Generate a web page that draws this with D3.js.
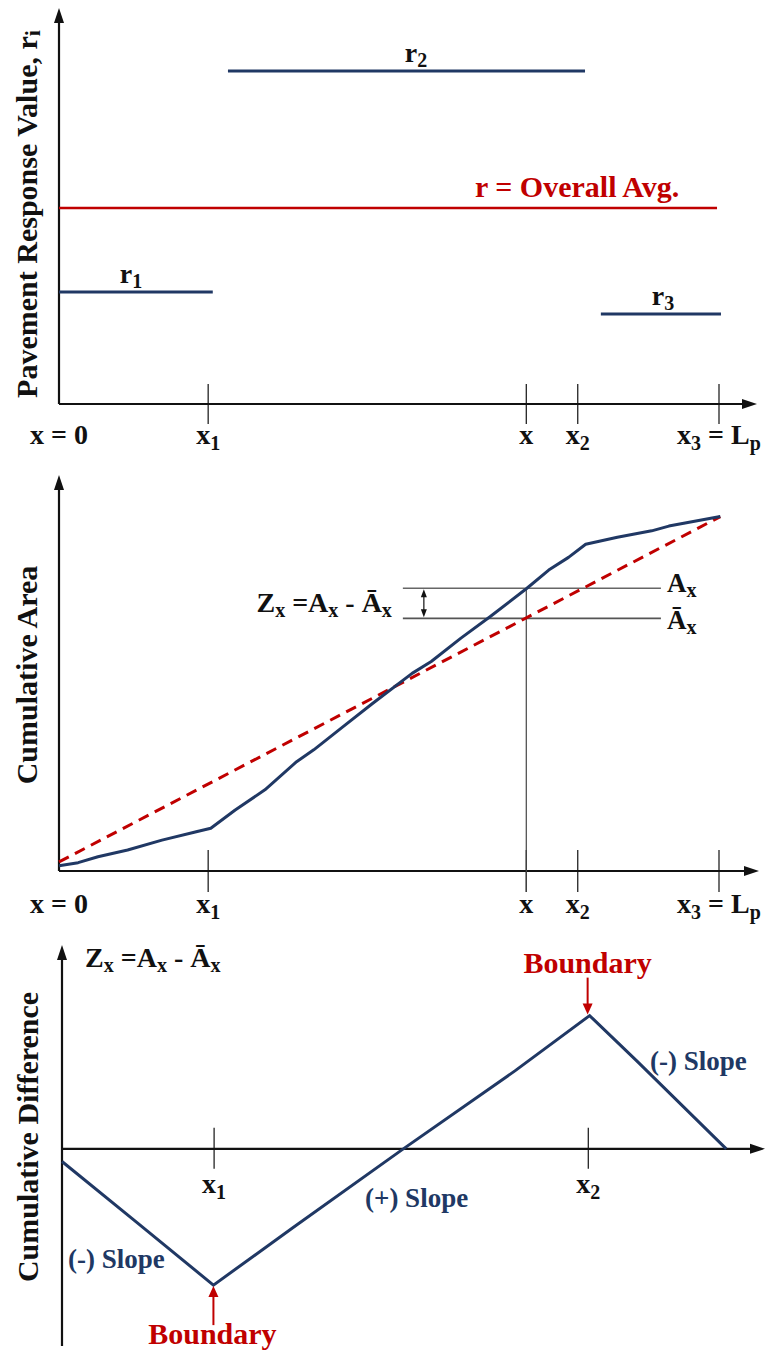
<!DOCTYPE html>
<html><head><meta charset="utf-8">
<script src="https://cdn.jsdelivr.net/npm/d3@7"></script>
<style>
body{margin:0;background:#fff}
svg{display:block}
text{font-family:"Liberation Serif","Times New Roman",serif;font-weight:bold}
</style>
</head><body>
<svg id="chart" width="767" height="1352"></svg>
<script>
// ---------- DATA ----------
// Panel 1: pavement response step values
const segLabels = ["r_1", "r_2", "r_3"];
const segStart  = [0, 25.6, 82.1];
const segEnd    = [23.3, 79.7, 100.3];
const segValue  = [28.3, 84.1, 22.7];
const overallAvg = 49.5;
const overallAvgSpan = [0, 99.7];
const overallAvgLabel = "r = Overall Avg.";

// x-axis ticks shared by panel 1 and 2
const tickValues = [0, 22.6, 70.8, 78.6, 100];
const tickLabels = ["x = 0", "x_1", "x", "x_2", "x_3 = L_p"];

// Panel 2: cumulative area
const cumX = [0, 2.9, 5.9, 10.4, 15.6, 20.8, 23.0, 26.7, 31.2, 36.0, 38.6, 43.0, 47.5, 53.5, 56.4, 60.9, 65.3, 70.9, 74.2, 77.2, 79.8, 84.6, 89.8, 92.4, 100.2];
const cumY = [1.3, 2.1, 3.6, 5.3, 7.8, 9.9, 10.8, 15.4, 20.5, 27.6, 30.6, 36.4, 42.3, 49.9, 52.9, 58.8, 64.2, 71.4, 76.0, 79.2, 82.5, 84.3, 85.9, 87.1, 89.5];
const avgLineX = [0, 100.2];
const avgLineY = [2.3, 89.5];
const markX = 70.8;          // position x
const markAx = 71.4;         // A_x
const markAbar = 63.8;       // Ā_x
const markSpan = [52.1, 91.2];

// Panel 3: cumulative difference
const diffX = [0, 11.2, 22.5, 34.5, 50.5, 67.3, 78.4, 85.4, 98.7];
const diffY = [-9.5, -55.6, -102.3, -58.5, -0.8, 58.5, 100, 66.0, 0];
const diffTickValues = [22.6, 78.2];
const diffTickLabels = ["x_1", "x_2"];

// ---------- STYLE ----------
const NAVY = "#203864", RED = "#C00000", AXIS = "#111";
const svg = d3.select("#chart");

// rich text helper: "_c" makes c a subscript
function rich(g, str, x, y, size, opts = {}) {
  const subSize = opts.subSize || Math.round(size * 0.72);
  const shift = opts.shift || Math.round(size * 0.2);
  const t = g.append("text").attr("x", x).attr("y", y)
    .attr("font-size", size).attr("fill", opts.fill || "#111")
    .attr("text-anchor", opts.anchor || "start");
  if (opts.transform) t.attr("transform", opts.transform);
  let i = 0, buf = "", low = false;
  const flush = () => { if (buf) { const s = t.append("tspan").text(buf); if (low) { s.attr("dy", -shift); low = false; } buf = ""; } };
  while (i < str.length) {
    if (str[i] === "_" && i + 1 < str.length) {
      flush();
      const s = t.append("tspan").text(str[i + 1]).attr("font-size", subSize);
      s.attr("dy", low ? 0 : shift);
      low = true;
      i += 2;
    } else { buf += str[i]; i++; }
  }
  flush();
  return t;
}
function arrowHead(g, tipX, tipY, dir, color, len = 14, hw = 5) {
  let pts;
  if (dir === "up") pts = [[tipX, tipY], [tipX - hw, tipY + len], [tipX + hw, tipY + len]];
  else if (dir === "down") pts = [[tipX, tipY], [tipX - hw, tipY - len], [tipX + hw, tipY - len]];
  else pts = [[tipX, tipY], [tipX - len, tipY - hw], [tipX - len, tipY + hw]];
  g.append("path").attr("d", d3.line()(pts) + "Z").attr("fill", color);
}
function axes(g, x0, yBottom, yTip, yAxisY, xTip) {
  g.append("line").attr("x1", x0).attr("x2", x0).attr("y1", yBottom).attr("y2", yTip + 10)
    .attr("stroke", AXIS).attr("stroke-width", 2.2);
  arrowHead(g, x0, yTip, "up", AXIS, 15, 5);
  g.append("line").attr("x1", x0).attr("x2", xTip - 10).attr("y1", yAxisY).attr("y2", yAxisY)
    .attr("stroke", AXIS).attr("stroke-width", 2.2);
  arrowHead(g, xTip, yAxisY, "right", AXIS, 15, 5);
}

// ---------- PANEL 1 ----------
const xTop = d3.scaleLinear().domain([0, 100]).range([59, 719]);
const yTop = d3.scaleLinear().domain([0, 100]).range([404, 8]);
const p1 = svg.append("g");
axes(p1, xTop(0), yTop(0), yTop(100), yTop(0), 757);
p1.selectAll(".tk").data(tickValues.slice(1)).enter().append("line")
  .attr("x1", d => xTop(d)).attr("x2", d => xTop(d))
  .attr("y1", yTop(0) - 20).attr("y2", yTop(0) + 20).attr("stroke", AXIS).attr("stroke-width", 1.2);
tickValues.forEach((v, i) => rich(p1, tickLabels[i], xTop(v), yTop(0) + 40, 28, { anchor: "middle", subSize: 20, shift: 6 }));
// avg line
p1.append("line").attr("x1", xTop(overallAvgSpan[0])).attr("x2", xTop(overallAvgSpan[1]))
  .attr("y1", yTop(overallAvg)).attr("y2", yTop(overallAvg)).attr("stroke", RED).attr("stroke-width", 2.4);
rich(p1, overallAvgLabel, 475, yTop(overallAvg) - 11, 30, { fill: RED });
// segments
segValue.forEach((v, i) => {
  p1.append("line").attr("x1", xTop(segStart[i])).attr("x2", xTop(segEnd[i]))
    .attr("y1", yTop(v)).attr("y2", yTop(v)).attr("stroke", NAVY).attr("stroke-width", 3);
});
const segLabelPos = [[131, 9], [416, 9], [663, 9]];
segValue.forEach((v, i) => rich(p1, segLabels[i], segLabelPos[i][0], yTop(v) - segLabelPos[i][1], 28, { anchor: "middle", subSize: 20, shift: 5 }));
rich(p1, "Pavement Response Value, r_i", 0, 0, 30, { anchor: "middle", subSize: 22, shift: 3, transform: `translate(37,${(yTop(0) + yTop(100)) / 2 + 8}) rotate(-90)` });

// ---------- PANEL 2 ----------
const xMid = d3.scaleLinear().domain([0, 100]).range([59, 719]);
const yMid = d3.scaleLinear().domain([0, 100]).range([871, 475]);
const p2 = svg.append("g");
axes(p2, xMid(0), yMid(0), yMid(100), yMid(0), 759);
p2.selectAll(".tk").data(tickValues.slice(1)).enter().append("line")
  .attr("x1", d => xMid(d)).attr("x2", d => xMid(d))
  .attr("y1", yMid(0) - 21).attr("y2", yMid(0) + 21).attr("stroke", AXIS).attr("stroke-width", 1.2);
tickValues.forEach((v, i) => rich(p2, tickLabels[i], xMid(v), yMid(0) + 42, 28, { anchor: "middle", subSize: 20, shift: 6 }));
// marker lines
p2.append("line").attr("x1", xMid(markX)).attr("x2", xMid(markX))
  .attr("y1", yMid(markAx)).attr("y2", yMid(0) + 21).attr("stroke", "#444").attr("stroke-width", 1.2);
p2.append("line").attr("x1", xMid(markSpan[0])).attr("x2", xMid(markSpan[1]))
  .attr("y1", yMid(markAx)).attr("y2", yMid(markAx)).attr("stroke", "#666").attr("stroke-width", 1.6);
p2.append("line").attr("x1", xMid(markSpan[0])).attr("x2", xMid(markSpan[1]))
  .attr("y1", yMid(markAbar)).attr("y2", yMid(markAbar)).attr("stroke", "#555").attr("stroke-width", 1.6);
// double arrow
const dax = xMid(markSpan[0]) + 21;
p2.append("line").attr("x1", dax).attr("x2", dax).attr("y1", yMid(markAx) + 6).attr("y2", yMid(markAbar) - 6)
  .attr("stroke", "#111").attr("stroke-width", 1.2);
arrowHead(p2, dax, yMid(markAx) + 1, "up", "#111", 8, 3);
arrowHead(p2, dax, yMid(markAbar) - 1, "down", "#111", 8, 3);
rich(p2, "Z_x =A_x - Ā_x", xMid(markSpan[0]) - 11, yMid((markAx + markAbar) / 2) + 9, 28, { anchor: "end", subSize: 20, shift: 5 });
rich(p2, "A_x", xMid(markSpan[1]) + 6, yMid(markAx) + 4, 27, { subSize: 20, shift: 5 });
rich(p2, "Ā_x", xMid(markSpan[1]) + 6, yMid(markAbar) + 11, 27, { subSize: 20, shift: 5 });
// dashed avg line
p2.append("path").datum(avgLineX.map((x, i) => [x, avgLineY[i]]))
  .attr("d", d3.line().x(d => xMid(d[0])).y(d => yMid(d[1])))
  .attr("fill", "none").attr("stroke", RED).attr("stroke-width", 3).attr("stroke-dasharray", "11,7");
// cumulative curve
p2.append("path").datum(cumX.map((x, i) => [x, cumY[i]]))
  .attr("d", d3.line().x(d => xMid(d[0])).y(d => yMid(d[1])))
  .attr("fill", "none").attr("stroke", NAVY).attr("stroke-width", 3).attr("stroke-linejoin", "round");
rich(p2, "Cumulative Area", 0, 0, 30, { anchor: "middle", transform: `translate(37,675) rotate(-90)` });

// ---------- PANEL 3 ----------
const xBot = d3.scaleLinear().domain([0, 100]).range([62, 735]);
const yBot = d3.scaleLinear().domain([-148, 153]).range([1346, 945]);
const p3 = svg.append("g");
p3.append("line").attr("x1", xBot(0)).attr("x2", xBot(0)).attr("y1", yBot(-148)).attr("y2", yBot(153) + 10)
  .attr("stroke", AXIS).attr("stroke-width", 2.2);
arrowHead(p3, xBot(0), yBot(153), "up", AXIS, 15, 5);
p3.append("line").attr("x1", xBot(0)).attr("x2", 765 - 10).attr("y1", yBot(0)).attr("y2", yBot(0))
  .attr("stroke", AXIS).attr("stroke-width", 2.2);
arrowHead(p3, 765, yBot(0), "right", AXIS, 15, 5);
p3.selectAll(".tk").data(diffTickValues).enter().append("line")
  .attr("x1", d => xBot(d)).attr("x2", d => xBot(d))
  .attr("y1", yBot(0) - 21).attr("y2", yBot(0) + 20).attr("stroke", AXIS).attr("stroke-width", 1.2);
diffTickValues.forEach((v, i) => rich(p3, diffTickLabels[i], xBot(v), yBot(0) + 44, 28, { anchor: "middle", subSize: 20, shift: 6 }));
p3.append("path").datum(diffX.map((x, i) => [x, diffY[i]]))
  .attr("d", d3.line().x(d => xBot(d[0])).y(d => yBot(d[1])))
  .attr("fill", "none").attr("stroke", NAVY).attr("stroke-width", 3).attr("stroke-linejoin", "miter");
rich(p3, "Z_x =A_x - Ā_x", 85, 967, 28, { subSize: 20, shift: 5 });
// boundaries
const iMax = diffY.indexOf(d3.max(diffY)), iMin = diffY.indexOf(d3.min(diffY));
const bx1 = xBot(diffX[iMax]) - 2, by1 = yBot(diffY[iMax]);
p3.append("line").attr("x1", bx1).attr("x2", bx1).attr("y1", by1 - 38).attr("y2", by1 - 8).attr("stroke", RED).attr("stroke-width", 2);
arrowHead(p3, bx1, by1 - 1, "down", RED, 11, 5);
p3.append("text").attr("x", bx1).attr("y", by1 - 43).attr("text-anchor", "middle").attr("font-size", 30).attr("fill", RED).text("Boundary");
const bx2 = xBot(diffX[iMin]), by2 = yBot(diffY[iMin]);
p3.append("line").attr("x1", bx2).attr("x2", bx2).attr("y1", by2 + 40).attr("y2", by2 + 8).attr("stroke", RED).attr("stroke-width", 2);
arrowHead(p3, bx2, by2 + 1, "up", RED, 11, 5);
p3.append("text").attr("x", bx2 - 1).attr("y", by2 + 59).attr("text-anchor", "middle").attr("font-size", 30).attr("fill", RED).text("Boundary");
// slope labels
p3.append("text").attr("x", 650).attr("y", 1070).attr("font-size", 27).attr("fill", NAVY).text("(-) Slope");
p3.append("text").attr("x", 365).attr("y", 1207).attr("font-size", 27).attr("fill", NAVY).text("(+) Slope");
p3.append("text").attr("x", 68).attr("y", 1268).attr("font-size", 27).attr("fill", NAVY).text("(-) Slope");
rich(p3, "Cumulative Difference", 0, 0, 30, { anchor: "middle", transform: `translate(38,1137) rotate(-90)` });
</script>
</body></html>
